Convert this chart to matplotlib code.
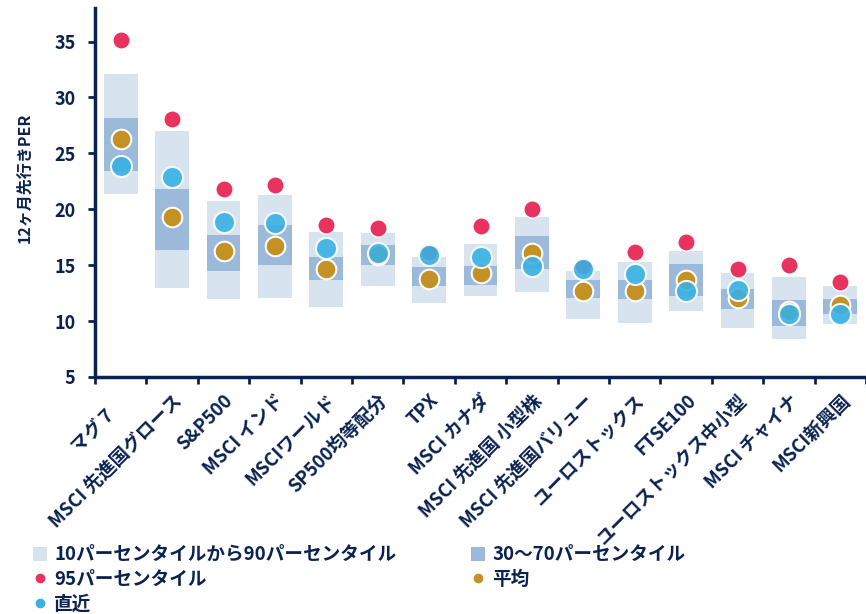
import matplotlib
matplotlib.use("Agg")
import matplotlib.pyplot as plt
from matplotlib.lines import Line2D
from matplotlib.patches import Patch
import numpy as np

plt.rcParams['font.family'] = ['Noto Sans CJK JP', 'DejaVu Sans']

categories = ["マグ７\u3000", "MSCI 先進国グロース", "S&P500", "MSCI インド", "MSCIワールド",
              "SP500均等配分", "TPX", "MSCI カナダ", "MSCI 先進国 小型株", "MSCI 先進国バリュー",
              "ユーロストックス", "FTSE100", "ユーロストックス中小型", "MSCI チャイナ", "MSCI新興国"]
p10 = [21.4, 13.0, 12.0, 12.1, 11.3, 13.1, 11.6, 12.2, 12.6, 10.2, 9.8, 10.9, 9.4, 8.4, 9.7]
p90 = [32.1, 27.0, 20.7, 21.3, 18.0, 17.9, 15.7, 16.9, 19.3, 14.5, 15.3, 16.3, 14.3, 13.9, 13.1]
p30 = [23.4, 16.4, 14.5, 15.0, 13.7, 15.0, 13.1, 13.2, 14.7, 12.05, 12.0, 12.2, 11.1, 9.6, 10.6]
p70 = [28.2, 21.8, 17.7, 18.6, 15.7, 16.8, 14.8, 14.9, 17.6, 13.7, 13.7, 15.1, 12.9, 11.9, 12.0]
p95 = [35.1, 28.1, 21.8, 22.2, 18.6, 18.3, 16.2, 18.5, 20.0, 14.9, 16.2, 17.1, 14.7, 15.0, 13.5]
avg = [26.3, 19.3, 16.3, 16.7, 14.7, 15.9, 13.8, 14.3, 16.1, 12.7, 12.7, 13.7, 12.1, 10.9, 11.4]
recent = [23.9, 22.9, 18.9, 18.8, 16.5, 16.1, 15.9, 15.7, 14.9, 14.7, 14.2, 12.7, 12.8, 10.6, 10.6]
yticks = [5, 10, 15, 20, 25, 30, 35]

navy = "#0B2251"
c_light = "#D7E3EF"
c_mid = "#9BB9D9"
c_red = "#E8335E"
c_gold = "#C49125"
c_blue = "#38B1E4"

fig = plt.figure(figsize=(8.66, 6.14), dpi=100)
ax = fig.add_axes([95/866, 1-377/614, 1-95/866, (377-8)/614])

x = np.arange(len(categories))
w = 0.66
ax.bar(x, np.array(p90)-np.array(p10), bottom=p10, width=w, color=c_light, zorder=1)
ax.bar(x, np.array(p70)-np.array(p30), bottom=p30, width=w, color=c_mid, zorder=2)
ax.scatter(x, p95, s=155, color=c_red, edgecolors='white', linewidths=1.0, zorder=3)
ax.scatter(x, avg, s=200, color=c_gold, edgecolors='white', linewidths=1.5, zorder=4)
ax.scatter(x, recent, s=230, color=c_blue, edgecolors='white', linewidths=1.5, alpha=0.9, zorder=5)

ax.set_xlim(-0.5, len(categories)-0.5)
ax.set_ylim(5, 38)
ax.set_yticks(yticks)
ax.set_yticklabels([str(v) for v in yticks], fontsize=13, fontweight='bold', color=navy)
ax.set_xticks(x)
ax.set_xticklabels(categories, rotation=45, ha='right', rotation_mode='anchor',
                   fontsize=13.3, fontweight='bold', color=navy)
ax.set_xticks(np.arange(len(categories)+1)-0.5, minor=True)
ax.tick_params(axis='x', which='major', length=0, pad=10)
ax.tick_params(axis='x', which='minor', length=5, width=2, color=navy, direction='out')
ax.tick_params(axis='y', length=5, width=2, color=navy, pad=9)

for s in ['top', 'right']:
    ax.spines[s].set_visible(False)
for s in ['left', 'bottom']:
    ax.spines[s].set_color(navy)
    ax.spines[s].set_linewidth(2.5)

ax.set_ylabel("12ヶ月先行きPER", fontsize=11.5, fontweight='bold', color=navy)
ax.yaxis.set_label_coords(-0.081, 0.54)

handles = [
    Patch(facecolor=c_light, label="10パーセンタイルから90パーセンタイル"),
    Line2D([], [], marker='o', linestyle='none', color=c_red, markersize=6, label="95パーセンタイル"),
    Line2D([], [], marker='o', linestyle='none', color=c_blue, markersize=6, label="直近"),
    Patch(facecolor=c_mid, label="30〜70パーセンタイル"),
    Line2D([], [], marker='o', linestyle='none', color=c_gold, markersize=6, label="平均"),
]
leg = fig.legend(handles=handles, loc='upper left', bbox_to_anchor=(0.038, 0.112), ncol=2,
                 frameon=False, prop={'size': 13.4, 'weight': 'bold'}, labelspacing=0.3,
                 handlelength=0.75, handleheight=0.75, handletextpad=0.4, columnspacing=4.0,
                 borderpad=0, borderaxespad=0)
for t in leg.get_texts():
    t.set_color(navy)

fig.savefig("out.png", dpi=100)
